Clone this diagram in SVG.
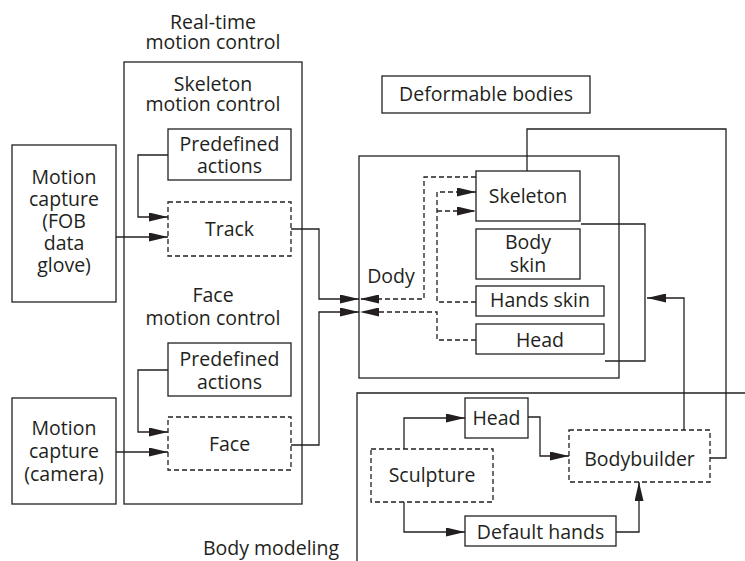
<svg xmlns="http://www.w3.org/2000/svg" width="745" height="561" viewBox="0 0 745 561">
<defs>
<style>
text{font-family:"Open Sans","Liberation Sans",sans-serif;font-size:19.5px;fill:#231f20;text-anchor:middle}
.box{fill:none;stroke:#231f20;stroke-width:1.3}
.dbox{fill:none;stroke:#231f20;stroke-width:1.3;stroke-dasharray:5,3}
.c{fill:none;stroke:#231f20;stroke-width:1.3}
.d{fill:none;stroke:#231f20;stroke-width:1.3;stroke-dasharray:5,3}
</style>
<marker id="ah" markerUnits="userSpaceOnUse" markerWidth="19" markerHeight="9" refX="19" refY="4.5" orient="auto">
<path d="M0,0 L19,4.5 L0,9 z" fill="#231f20"/>
</marker>
</defs>
<rect width="745" height="561" fill="#fff"/>

<g id="realtime">
<rect class="box" x="124" y="62" width="178" height="442"/>
<text x="213" y="29">Real-time<tspan x="213" y="49">motion control</tspan></text>
<text x="213" y="91">Skeleton<tspan x="213" y="111">motion control</tspan></text>
<text x="213" y="302">Face<tspan x="213" y="325">motion control</tspan></text>
</g>
<g id="predef1"><rect class="box" x="168" y="129" width="123" height="51"/><text x="229.5" y="151">Predefined<tspan x="229.5" y="173">actions</tspan></text></g>
<g id="track"><rect class="dbox" x="168" y="202" width="123" height="54"/><text x="229.5" y="236">Track</text></g>
<g id="fob"><rect class="box" x="12" y="145" width="104" height="157"/>
<text x="64" y="184">Motion<tspan x="64" y="206">capture</tspan><tspan x="64" y="228">(FOB</tspan><tspan x="64" y="250">data</tspan><tspan x="64" y="272">glove)</tspan></text></g>
<g id="predef2"><rect class="box" x="168" y="343" width="123" height="53"/><text x="229.5" y="366">Predefined<tspan x="229.5" y="389">actions</tspan></text></g>
<g id="face"><rect class="dbox" x="168" y="417" width="123" height="53"/><text x="229.5" y="451">Face</text></g>
<g id="camera"><rect class="box" x="12" y="398" width="104" height="106"/>
<text x="64" y="435">Motion<tspan x="64" y="458">capture</tspan><tspan x="64" y="481">(camera)</tspan></text></g>

<g id="deformable"><rect class="box" x="382" y="76" width="208" height="37"/><text x="486" y="101">Deformable bodies</text></g>
<g id="dody"><rect class="box" x="359" y="156" width="260" height="222"/><text x="391" y="283">Dody</text></g>
<g id="skeleton"><rect class="box" x="476" y="171" width="104" height="50"/><text x="528" y="203">Skeleton</text></g>
<g id="bodyskin"><rect class="box" x="476" y="229" width="104" height="50"/><text x="528" y="249">Body<tspan x="528" y="272">skin</tspan></text></g>
<g id="handsskin"><rect class="box" x="476" y="286" width="128" height="30"/><text x="540" y="307">Hands skin</text></g>
<g id="headskin"><rect class="box" x="476" y="324" width="128" height="30"/><text x="540" y="347">Head</text></g>

<g id="bodymodeling"><path class="c" d="M745,393 H357 V561"/><text x="271" y="555">Body modeling</text></g>
<g id="head"><rect class="box" x="465" y="398" width="63" height="40"/><text x="496.5" y="425">Head</text></g>
<g id="sculpture"><rect class="dbox" x="371" y="449" width="122" height="53"/><text x="432" y="482">Sculpture</text></g>
<g id="bodybuilder"><rect class="dbox" x="569" y="430" width="141" height="52"/><text x="639.5" y="466">Bodybuilder</text></g>
<g id="defaulthands"><rect class="box" x="465" y="516" width="151" height="30"/><text x="540.5" y="539">Default hands</text></g>

<g id="connectors">
<path class="c" d="M168,155 H138 V217 H168" marker-end="url(#ah)"/>
<path class="c" d="M116,237 H168" marker-end="url(#ah)"/>
<path class="c" d="M168,370 H138 V432 H168" marker-end="url(#ah)"/>
<path class="c" d="M116,452 H168" marker-end="url(#ah)"/>
<path class="c" d="M291,229 H319 V299 H359" marker-end="url(#ah)"/>
<path class="c" d="M291,445 H319 V312 H359" marker-end="url(#ah)"/>
<path class="c" d="M527,171 V129 H726 V458 H710"/>
<path class="c" d="M581,224 H645 V361 H605"/>
<path class="c" d="M684,430 V298 H647" marker-end="url(#ah)"/>
<path class="c" d="M404,449 V418 H465" marker-end="url(#ah)"/>
<path class="c" d="M528,417 H540 V456 H569" marker-end="url(#ah)"/>
<path class="c" d="M404,502 V532 H465" marker-end="url(#ah)"/>
<path class="c" d="M616,532 H639 V482" marker-end="url(#ah)"/>
<path class="d" d="M476,177 H424 V299 H360" marker-end="url(#ah)"/>
<path class="d" d="M476,302 H437 V192 H476" marker-end="url(#ah)"/>
<path class="d" d="M437,211 H476" marker-end="url(#ah)"/>
<path class="d" d="M476,340 H437 V312 H360" marker-end="url(#ah)"/>
</g>
</svg>
